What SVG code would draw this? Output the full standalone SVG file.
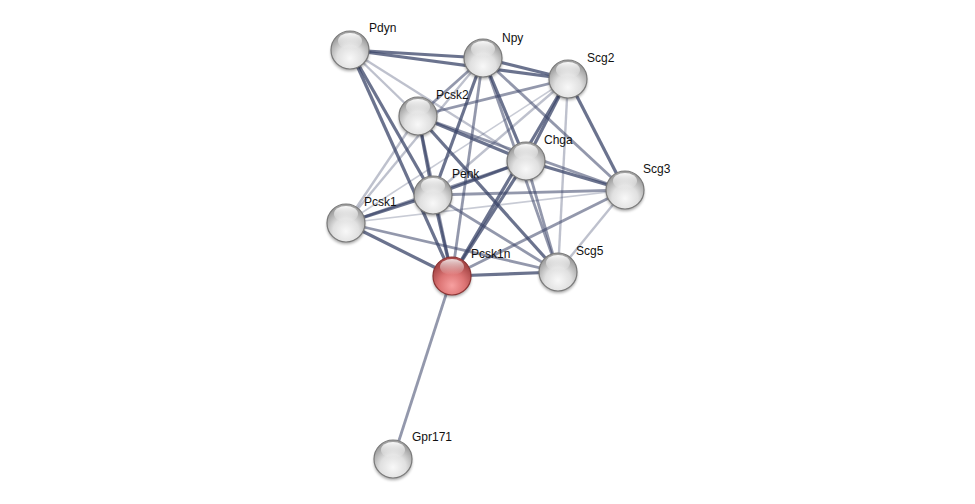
<svg xmlns="http://www.w3.org/2000/svg" width="975" height="504" viewBox="0 0 975 504">
<defs>
<style>
.e{stroke:#3a4468;fill:none;stroke-linecap:butt}
.d{stroke-width:3.2;stroke-opacity:.75}
.m{stroke-width:2.8;stroke-opacity:.55}
.l{stroke-width:2.4;stroke-opacity:.33}
.t{stroke-width:1.6;stroke-opacity:.28}
.lab{font-family:"Liberation Sans",Arial,sans-serif;font-size:12px;fill:#111}
.ring{fill:none;stroke-width:1.2}
</style>
<radialGradient id="gBase" cx="50%" cy="72%" r="62%">
<stop offset="0" stop-color="#f8f8f8"/>
<stop offset="0.55" stop-color="#e0e0e0"/>
<stop offset="1" stop-color="#a0a0a0"/>
</radialGradient>
<radialGradient id="rBase" cx="50%" cy="75%" r="62%">
<stop offset="0" stop-color="#f7a0a0"/>
<stop offset="0.55" stop-color="#dc7474"/>
<stop offset="1" stop-color="#a84848"/>
</radialGradient>
<linearGradient id="hl" x1="0" y1="0" x2="0" y2="1">
<stop offset="0" stop-color="#fff" stop-opacity="0.95"/>
<stop offset="1" stop-color="#fff" stop-opacity="0"/>
</linearGradient>
<filter id="sh" x="-50%" y="-50%" width="200%" height="200%">
<feGaussianBlur stdDeviation="1.6"/>
</filter>
<g id="ball">
<ellipse cx="0" cy="3" rx="19" ry="18" fill="#000" opacity="0.35" filter="url(#sh)"/>
<circle r="19" fill="url(#gBase)"/>
<circle r="19" class="ring" stroke="#7a7a7a"/>
<ellipse cx="0" cy="-9" rx="12" ry="8" fill="url(#hl)"/>
</g>
<g id="rball">
<ellipse cx="0" cy="3" rx="19" ry="18" fill="#000" opacity="0.35" filter="url(#sh)"/>
<circle r="19" fill="url(#rBase)"/>
<circle r="19" class="ring" stroke="#8c3434"/>
<ellipse cx="0" cy="-9" rx="12" ry="8" fill="url(#hl)" opacity="0.85"/>
</g>
</defs>
<rect width="975" height="504" fill="#fff"/>
<g id="connectors">
<line class="e d" x1="350" y1="50" x2="483" y2="58"/>
<line class="e d" x1="350" y1="50" x2="568" y2="79"/>
<line class="e l" x1="350" y1="50" x2="418" y2="116"/>
<line class="e l" x1="350" y1="50" x2="526" y2="161"/>
<line class="e d" x1="350" y1="50" x2="433" y2="195"/>
<line class="e d" x1="350" y1="50" x2="452" y2="276"/>
<line class="e d" x1="483" y1="58" x2="568" y2="79"/>
<line class="e m" x1="483" y1="58" x2="418" y2="116"/>
<line class="e d" x1="483" y1="58" x2="526" y2="161"/>
<line class="e m" x1="483" y1="58" x2="625" y2="190"/>
<line class="e d" x1="483" y1="58" x2="433" y2="195"/>
<line class="e l" x1="483" y1="58" x2="346" y2="223"/>
<line class="e m" x1="483" y1="58" x2="452" y2="276"/>
<line class="e m" x1="483" y1="58" x2="558" y2="272"/>
<line class="e m" x1="568" y1="79" x2="418" y2="116"/>
<line class="e d" x1="568" y1="79" x2="526" y2="161"/>
<line class="e d" x1="568" y1="79" x2="625" y2="190"/>
<line class="e l" x1="568" y1="79" x2="433" y2="195"/>
<line class="e t" x1="568" y1="79" x2="346" y2="223"/>
<line class="e d" x1="568" y1="79" x2="452" y2="276"/>
<line class="e l" x1="568" y1="79" x2="558" y2="272"/>
<line class="e d" x1="418" y1="116" x2="526" y2="161"/>
<line class="e m" x1="418" y1="116" x2="625" y2="190"/>
<line class="e d" x1="418" y1="116" x2="433" y2="195"/>
<line class="e l" x1="418" y1="116" x2="346" y2="223"/>
<line class="e m" x1="418" y1="116" x2="452" y2="276"/>
<line class="e d" x1="418" y1="116" x2="558" y2="272"/>
<line class="e d" x1="526" y1="161" x2="625" y2="190"/>
<line class="e d" x1="526" y1="161" x2="433" y2="195"/>
<line class="e m" x1="526" y1="161" x2="346" y2="223"/>
<line class="e d" x1="526" y1="161" x2="452" y2="276"/>
<line class="e m" x1="526" y1="161" x2="558" y2="272"/>
<line class="e m" x1="625" y1="190" x2="433" y2="195"/>
<line class="e t" x1="625" y1="190" x2="346" y2="223"/>
<line class="e m" x1="625" y1="190" x2="452" y2="276"/>
<line class="e l" x1="625" y1="190" x2="558" y2="272"/>
<line class="e d" x1="433" y1="195" x2="346" y2="223"/>
<line class="e d" x1="433" y1="195" x2="452" y2="276"/>
<line class="e m" x1="433" y1="195" x2="558" y2="272"/>
<line class="e d" x1="346" y1="223" x2="452" y2="276"/>
<line class="e m" x1="346" y1="223" x2="558" y2="272"/>
<line class="e d" x1="452" y1="276" x2="558" y2="272"/>
<line class="e m" x1="452" y1="276" x2="393" y2="459"/>
</g>
<g id="node-Pdyn"><use href="#ball" x="350" y="50"/><text class="lab" x="369" y="32">Pdyn</text></g>
<g id="node-Npy"><use href="#ball" x="483" y="58"/><text class="lab" x="502" y="42">Npy</text></g>
<g id="node-Scg2"><use href="#ball" x="568" y="79"/><text class="lab" x="587" y="62">Scg2</text></g>
<g id="node-Pcsk2"><use href="#ball" x="418" y="116"/><text class="lab" x="436" y="99">Pcsk2</text></g>
<g id="node-Chga"><use href="#ball" x="526" y="161"/><text class="lab" x="544" y="144">Chga</text></g>
<g id="node-Scg3"><use href="#ball" x="625" y="190"/><text class="lab" x="643" y="173">Scg3</text></g>
<g id="node-Penk"><use href="#ball" x="433" y="195"/><text class="lab" x="452" y="178">Penk</text></g>
<g id="node-Pcsk1"><use href="#ball" x="346" y="223"/><text class="lab" x="364" y="206">Pcsk1</text></g>
<g id="node-Scg5"><use href="#ball" x="558" y="272"/><text class="lab" x="576" y="255">Scg5</text></g>
<g id="node-Pcsk1n"><use href="#rball" x="452" y="276"/><text class="lab" x="471" y="258">Pcsk1n</text></g>
<g id="node-Gpr171"><use href="#ball" x="393" y="459"/><text class="lab" x="412" y="441">Gpr171</text></g>
</svg>
